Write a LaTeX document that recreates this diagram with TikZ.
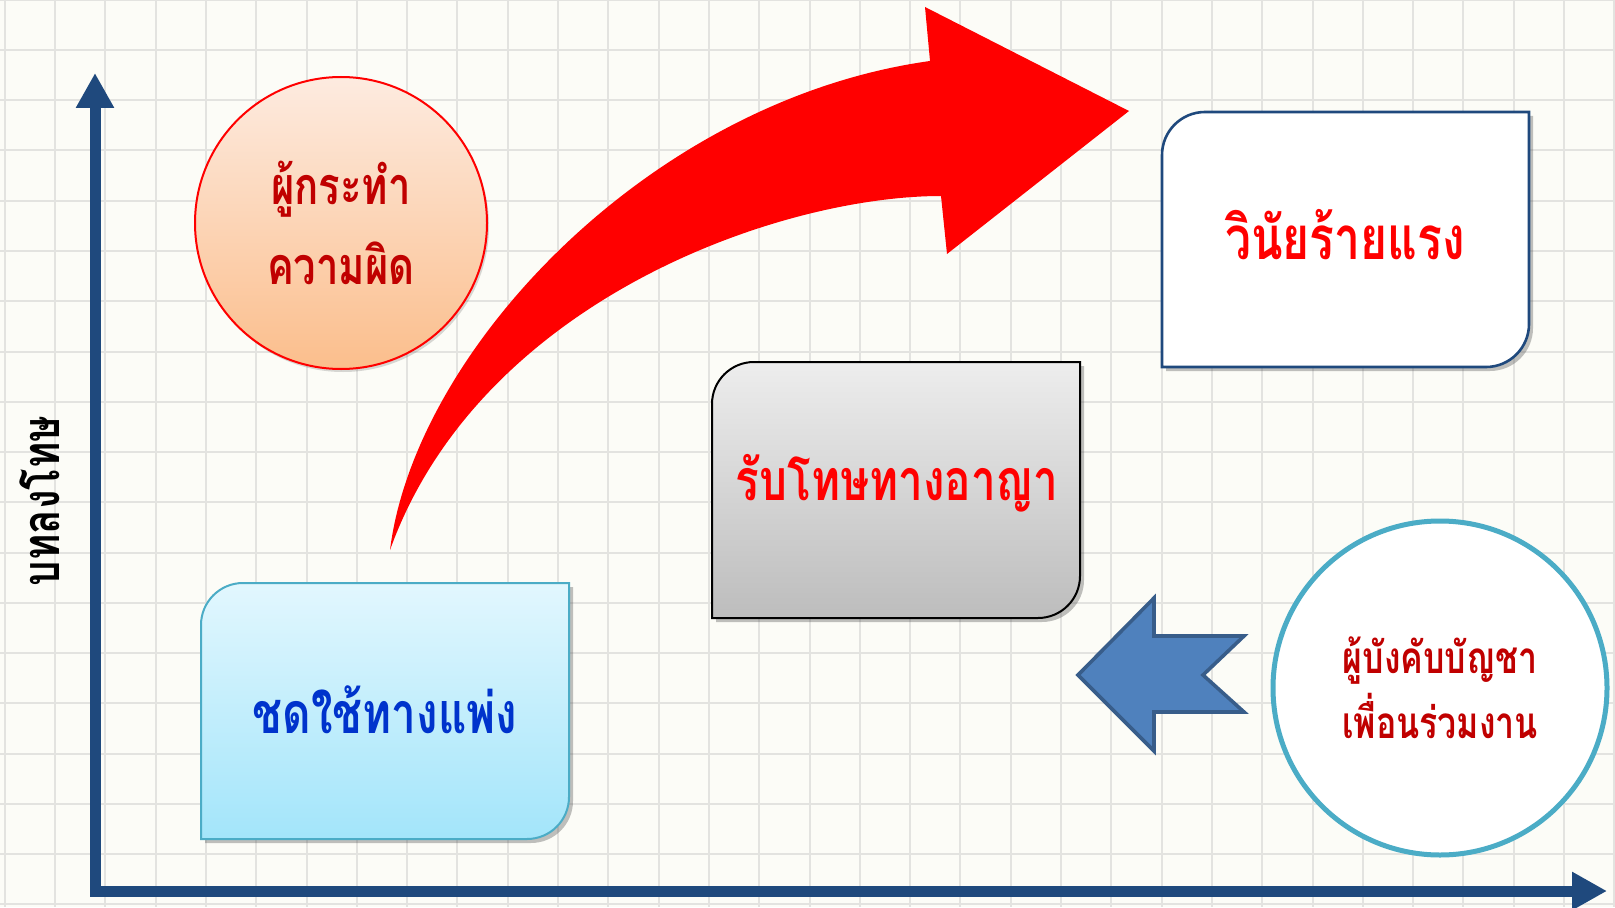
\documentclass[tikz,border=0pt]{standalone}
\usepackage{fontspec}
\newfontfamily\thai[Script=Thai]{Loma}
\usetikzlibrary{shadows,arrows.meta}
\definecolor{bgcol}{HTML}{FCFCF7}
\definecolor{gridcol}{HTML}{E3E3E0}
\definecolor{axisblue}{HTML}{1F497D}
\definecolor{darkred}{HTML}{C00000}
\definecolor{thblue}{HTML}{0033CC}
\definecolor{cyanline}{HTML}{4BACC6}
\definecolor{arrowfill}{HTML}{4F81BD}
\definecolor{arrowline}{HTML}{385D8A}
\definecolor{cyantop}{HTML}{E2F7FE}
\definecolor{cyanbot}{HTML}{A3E5FA}
\definecolor{peachtop}{HTML}{FDEBE0}
\definecolor{peachbot}{HTML}{FBBE8C}
\newcommand{\narrowtxt}[1]{\scalebox{0.77}[1]{#1}}
\tikzset{
  gridline/.style={draw=gridcol, line width=1pt},
  axisline/.style={draw=axisblue, line width=5.5pt, line join=miter,
     {Triangle[width=18pt,length=17.5pt]}-{Triangle[width=18pt,length=17.5pt]}},
  boxshadow/.style={drop shadow={shadow xshift=2pt, shadow yshift=-2pt, opacity=0.35, fill=black!70}},
  txt/.style={font=\thai\bfseries, align=center, inner sep=0pt},
}
\begin{document}
\begin{tikzpicture}[x=0.5pt,y=0.5pt]
\useasboundingbox (0,0) rectangle (1615,907);
\fill[bgcol] (0,0) rectangle (1615,907);
\foreach \i in {0,...,32} \draw[gridline] ({4.7+50.3*\i},0) -- ({4.7+50.3*\i},907);
\foreach \j in {-1,...,17} \draw[gridline] (0,{857-50.25*\j}) -- (1615,{857-50.25*\j});

% axes
\coordinate (ytip) at (95,834);
\coordinate (origin) at (95,16);
\coordinate (xtip) at (1607,16);
\draw[axisline] (ytip) -- (origin) -- (xtip);
\node[txt, rotate=90, font=\thai\bfseries\fontsize{26pt}{30pt}\selectfont] (ylab) at (40,406) {\narrowtxt{บทลงโทษ}};

% red curved arrow
\fill[red] (390,357) .. controls (415,557) and (650,807) .. (930,846)
  -- (925,900) -- (1129,796) -- (947,653) -- (941,711)
  .. controls (780,711) and (480,607) .. (390,357) -- cycle;

% box 1
\draw[draw=cyanline, line width=1pt, top color=cyantop, bottom color=cyanbot, boxshadow]
  (201,68) -- (201,282) arc[start angle=180,end angle=90,radius=42] -- (569,324)
  -- (569,110) arc[start angle=0,end angle=-90,radius=42] -- cycle;
\node[txt, text=thblue, font=\thai\bfseries\fontsize{28.6pt}{32pt}\selectfont] (b1) at (385,197) {\narrowtxt{ชดใช้ทางแพ่ง}};

% box 2
\draw[draw=black, line width=1pt, top color=black!7, bottom color=black!26, boxshadow]
  (712,289) -- (712,503) arc[start angle=180,end angle=90,radius=42] -- (1080,545)
  -- (1080,331) arc[start angle=0,end angle=-90,radius=42] -- cycle;
\node[txt, text=red, font=\thai\bfseries\fontsize{28.6pt}{32pt}\selectfont] (b2) at (897,424) {\narrowtxt{รับโทษทางอาญา}};

% box 3
\draw[draw=axisblue, line width=1.3pt, fill=white, boxshadow]
  (1162,540) -- (1162,752) arc[start angle=180,end angle=90,radius=43] -- (1529,795)
  -- (1529,583) arc[start angle=0,end angle=-90,radius=43] -- cycle;
\node[txt, text=red, font=\thai\bfseries\fontsize{30pt}{34pt}\selectfont] (b3) at (1345,672) {\narrowtxt{วินัยร้ายแรง}};

% circle 1
\node[circle, minimum size=146pt, draw=red, line width=1pt, top color=peachtop, bottom color=peachbot,
      drop shadow={shadow xshift=1pt, shadow yshift=-1.5pt, opacity=0.25, fill=black!60},
      txt, text=darkred, font=\thai\bfseries\fontsize{26pt}{40pt}\selectfont] (c1) at (341,684) {\narrowtxt{ผู้กระทำ}\\\narrowtxt{ความผิด}};

% blue notched arrow
\draw[fill=arrowfill, draw=arrowline, line width=1.8pt, line join=miter]
  (1078,232) -- (1154,309) -- (1154,271) -- (1244,271) -- (1203,232)
  -- (1244,195) -- (1154,195) -- (1154,156) -- cycle;

% circle 2
\node[circle, minimum size=167pt, draw=cyanline, line width=2.5pt, fill=white,
      txt, text=darkred, font=\thai\bfseries\fontsize{22pt}{32.5pt}\selectfont] (c2) at (1440,219) {\narrowtxt{ผู้บังคับบัญชา}\\\narrowtxt{เพื่อนร่วมงาน}};
\end{tikzpicture}
\end{document}
